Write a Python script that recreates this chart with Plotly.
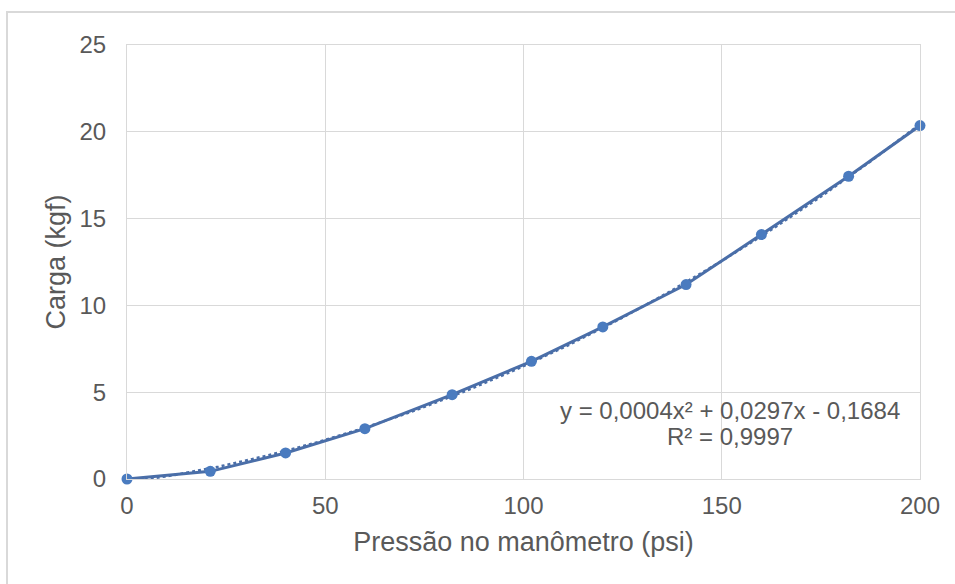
import numpy as np
import plotly.graph_objects as go

# Measured data: manometer pressure (psi) vs load (kgf)
pressao_psi = [0, 21, 40, 60, 82, 102, 120, 141, 160, 182, 200]
carga_kgf = [0.0, 0.44, 1.50, 2.90, 4.86, 6.78, 8.76, 11.20, 14.08, 17.44, 20.36]

x_ticks = [0, 50, 100, 150, 200]
y_ticks = [0, 5, 10, 15, 20, 25]

equacao = "y = 0,0004x² + 0,0297x - 0,1684"
r_quadrado = "R² = 0,9997"

FONT = "Liberation Sans, Arial, sans-serif"
TEXT_COLOR = "#595959"
GRID = "#d9d9d9"
LINE_BLUE = "#4a6ea8"
MARK_BLUE = "#4a7bbf"

# Second-order polynomial trend line fitted to the measurements
coef = np.polyfit(pressao_psi, carga_kgf, 2)
x_fit = np.linspace(min(pressao_psi), max(pressao_psi), 200)
y_fit = np.polyval(coef, x_fit)

fig = go.Figure()
fig.add_trace(go.Scatter(
    x=x_fit, y=y_fit, mode="lines",
    line=dict(color=LINE_BLUE, width=2.5, dash="dot"),
    hoverinfo="skip", showlegend=False, cliponaxis=False,
))
fig.add_trace(go.Scatter(
    x=pressao_psi, y=carga_kgf, mode="lines+markers",
    line=dict(color=LINE_BLUE, width=3),
    marker=dict(color=MARK_BLUE, size=11),
    showlegend=False, cliponaxis=False,
))

W, H = 955, 584
L, R, T, B = 127, 35, 45, 105
pw, ph = W - L - R, H - T - B

def px_to_paper(px, py):
    return (px - L) / pw, (H - B - py) / ph

# Chart-area border
x0, y1 = px_to_paper(7, 12)
x1, y0 = px_to_paper(W + 10, H + 10)
fig.add_shape(type="rect", xref="paper", yref="paper",
              x0=x0, y0=y0, x1=x1, y1=y1,
              line=dict(color=GRID, width=2), layer="below")

# Trend-line equation and R² (two tightly spaced lines)
ex, ey = px_to_paper(730, 410)
fig.add_annotation(x=ex, y=ey, xref="paper", yref="paper", text=equacao,
                   showarrow=False, xanchor="center", yanchor="middle",
                   borderpad=0,
                   font=dict(family=FONT, size=24, color=TEXT_COLOR))
rx, ry = px_to_paper(730, 436)
fig.add_annotation(x=rx, y=ry, xref="paper", yref="paper", text=r_quadrado,
                   showarrow=False, xanchor="center", yanchor="middle",
                   borderpad=0,
                   font=dict(family=FONT, size=24, color=TEXT_COLOR))

fig.update_layout(
    width=W, height=H,
    margin=dict(l=L, r=R, t=T, b=B),
    paper_bgcolor="white", plot_bgcolor="white",
    font=dict(family=FONT, size=24, color=TEXT_COLOR),
    xaxis=dict(
        range=[0, 200], tickvals=x_ticks, showgrid=True, gridcolor=GRID,
        gridwidth=1, zeroline=False, showline=True, linecolor=GRID,
        linewidth=1, mirror=True, ticks="", ticklabelstandoff=5,
        tickfont=dict(size=24, color=TEXT_COLOR),
        title=dict(text="Pressão no manômetro (psi)", standoff=14,
                   font=dict(size=27, color=TEXT_COLOR)),
    ),
    yaxis=dict(
        range=[0, 25], tickvals=y_ticks, showgrid=True, gridcolor=GRID,
        gridwidth=1, zeroline=False, showline=True, linecolor=GRID,
        linewidth=1, mirror=True, ticks="", ticklabelstandoff=15,
        tickfont=dict(size=24, color=TEXT_COLOR),
        title=dict(text="Carga (kgf)", standoff=6,
                   font=dict(size=27, color=TEXT_COLOR)),
    ),
)

fig.write_html("out.html")
